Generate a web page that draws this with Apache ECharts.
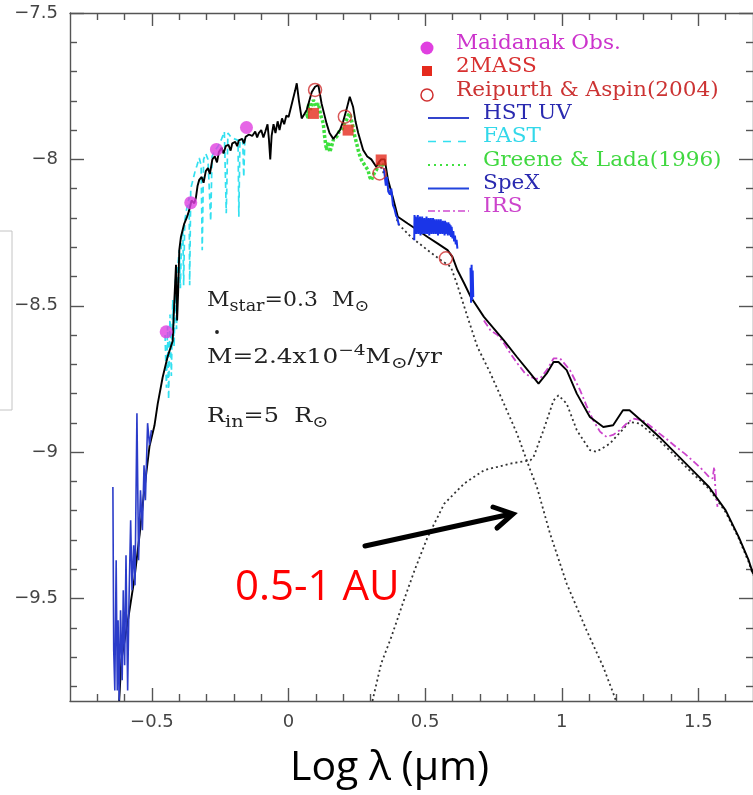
<!DOCTYPE html>
<html><head><meta charset="utf-8">
<script src="https://cdn.jsdelivr.net/npm/echarts@6/dist/echarts.min.js"></script>
<style>html,body{margin:0;padding:0;background:#fff}#c{width:753px;height:795px}</style>
</head><body><div id="c"></div>
<script>
// ---- tick values ----
const xMajorTicks = [-0.5, 0, 0.5, 1, 1.5];
const xMinorTicks = [-0.7,-0.6,-0.4,-0.3,-0.2,-0.1,0.1,0.2,0.3,0.4,0.6,0.7,0.8,0.9,1.1,1.2,1.3,1.4,1.6];
const yMajorTicks = [-9.5, -9, -8.5, -8, -7.5];
const yMinorTicks = [-9.8,-9.7,-9.6,-9.4,-9.3,-9.2,-9.1,-8.9,-8.8,-8.7,-8.6,-8.4,-8.3,-8.2,-8.1,-7.9,-7.8,-7.7,-7.6];

// ---- observed photometry ----
const maidanak = [[-0.448,-8.589],[-0.358,-8.148],[-0.264,-7.966],[-0.154,-7.891]];
const twoMass = [[0.091,-7.843],[0.218,-7.900],[0.339,-8.002]];
const reipurth = [[0.097,-7.763],[0.206,-7.854],[0.333,-8.048],[0.576,-8.338]];

// ---- spectra ----
const hstUV = [[-0.643,-9.119],[-0.640,-9.677],[-0.636,-9.814],[-0.631,-9.369],[-0.627,-9.814],[-0.624,-9.574],[-0.620,-9.848],[-0.615,-9.540],[-0.609,-9.779],[-0.605,-9.472],[-0.600,-9.728],[-0.595,-9.352],[-0.589,-9.814],[-0.584,-9.506],[-0.578,-9.233],[-0.573,-9.472],[-0.567,-9.318],[-0.562,-9.455],[-0.555,-8.867],[-0.549,-9.369],[-0.542,-9.130],[-0.535,-9.267],[-0.529,-9.045],[-0.524,-9.164],[-0.516,-8.901],[-0.509,-8.976],[-0.502,-8.925]];

const fast = [[-0.452,-8.60],[-0.447,-8.78],[-0.443,-8.57],[-0.439,-8.82],[-0.434,-8.53],[-0.429,-8.74],[-0.424,-8.48],[-0.419,-8.64],[-0.414,-8.41],[-0.410,-8.58],[-0.405,-8.36],[-0.400,-8.31],[-0.396,-8.44],[-0.392,-8.27],[-0.387,-8.24],[-0.384,-8.43],[-0.380,-8.21],[-0.373,-8.17],[-0.364,-8.13],[-0.362,-8.43],[-0.358,-8.10],[-0.350,-8.07],[-0.342,-8.04],[-0.335,-8.02],[-0.327,-7.995],[-0.320,-8.02],[-0.316,-8.31],[-0.311,-8.00],[-0.303,-7.98],[-0.295,-8.00],[-0.285,-8.21],[-0.280,-7.99],[-0.270,-7.97],[-0.258,-7.955],[-0.245,-7.93],[-0.235,-7.905],[-0.230,-7.90],[-0.228,-8.184],[-0.222,-7.91],[-0.210,-7.925],[-0.198,-7.93],[-0.185,-7.935],[-0.182,-8.196],[-0.178,-7.935],[-0.168,-7.93],[-0.164,-8.06],[-0.160,-7.93],[-0.150,-7.92]];

const greeneLada = [[0.067,-7.843],[0.070,-7.86],[0.073,-7.809],[0.080,-7.83],[0.091,-7.797],[0.100,-7.82],[0.109,-7.809],[0.118,-7.85],[0.127,-7.877],[0.133,-7.93],[0.139,-7.968],[0.145,-7.94],[0.151,-7.975],[0.157,-7.957],[0.165,-7.93],[0.176,-7.923],[0.185,-7.905],[0.194,-7.90],[0.203,-7.88],[0.212,-7.866],[0.218,-7.85],[0.224,-7.843],[0.236,-7.889],[0.242,-7.92],[0.249,-7.945],[0.258,-7.98],[0.267,-8.002],[0.279,-8.02],[0.291,-8.037],[0.297,-8.06],[0.303,-8.071],[0.312,-8.05],[0.321,-8.037],[0.330,-8.02],[0.339,-8.014],[0.352,-8.025]];

const spex = [[0.349,-8.03],[0.356,-8.09],[0.360,-8.06],[0.365,-8.11],[0.371,-8.12],[0.376,-8.10],[0.382,-8.156],[0.388,-8.17],[0.393,-8.19],[0.398,-8.20],[0.404,-8.225],[0.43,'-'],
  [0.460,-8.276],[0.461,-8.19],[0.463,-8.25],[0.465,-8.195],[0.467,-8.255],[0.469,-8.20],[0.471,-8.25],[0.473,-8.19],[0.475,-8.255],[0.477,-8.205],[0.479,-8.25],[0.481,-8.195],[0.483,-8.26],[0.485,-8.20],[0.487,-8.25],[0.489,-8.195],[0.491,-8.255],[0.493,-8.205],[0.495,-8.25],[0.497,-8.20],[0.499,-8.255],[0.501,-8.21],[0.503,-8.25],[0.505,-8.195],[0.507,-8.255],[0.509,-8.205],[0.511,-8.25],[0.513,-8.20],[0.515,-8.26],[0.517,-8.205],[0.519,-8.25],[0.521,-8.20],[0.523,-8.255],[0.525,-8.21],[0.527,-8.25],[0.529,-8.20],[0.531,-8.255],[0.533,-8.205],[0.535,-8.25],[0.537,-8.21],[0.539,-8.255],[0.541,-8.205],[0.543,-8.25],[0.545,-8.21],[0.547,-8.26],[0.549,-8.205],[0.551,-8.25],[0.553,-8.21],[0.555,-8.255],[0.557,-8.205],[0.559,-8.25],[0.561,-8.215],[0.563,-8.255],[0.565,-8.21],[0.567,-8.25],[0.569,-8.215],[0.571,-8.26],[0.573,-8.21],[0.575,-8.255],[0.577,-8.215],[0.579,-8.25],[0.581,-8.22],[0.583,-8.26],[0.585,-8.215],[0.587,-8.255],[0.589,-8.22],[0.591,-8.26],[0.593,-8.225],[0.595,-8.265],[0.597,-8.23],[0.600,-8.27],[0.603,-8.245],[0.606,-8.28],[0.609,-8.26],[0.612,-8.29],[0.615,-8.275],[0.618,-8.305],[0.64,'-'],
  [0.666,-8.37],[0.668,-8.49],[0.670,-8.36],[0.672,-8.48],[0.674,-8.38],[0.676,-8.47]];

const irs = [[0.715,-8.55],[0.740,-8.585],[0.765,-8.60],[0.790,-8.63],[0.812,-8.663],[0.840,-8.70],[0.865,-8.73],[0.885,-8.743],[0.905,-8.75],[0.921,-8.748],[0.945,-8.72],[0.970,-8.68],[0.994,-8.68],[1.030,-8.72],[1.067,-8.788],[1.090,-8.84],[1.115,-8.891],[1.140,-8.93],[1.164,-8.948],[1.190,-8.94],[1.212,-8.925],[1.240,-8.90],[1.261,-8.885],[1.297,-8.891],[1.330,-8.915],[1.357,-8.936],[1.390,-8.96],[1.418,-8.982],[1.450,-9.005],[1.491,-9.039],[1.515,-9.06],[1.539,-9.085],[1.552,-9.09],[1.558,-9.05],[1.562,-9.12],[1.570,-9.187]];

// ---- models ----
const modelTotal = [[-0.62,-9.85],[-0.612,-9.71],[-0.588,-9.575],[-0.564,-9.43],[-0.545,-9.28],[-0.527,-9.12],[-0.509,-8.98],[-0.491,-8.91],[-0.479,-8.835],[-0.461,-8.745],[-0.443,-8.675],[-0.424,-8.62],[-0.418,-8.48],[-0.412,-8.36],[-0.408,-8.55],[-0.404,-8.45],[-0.400,-8.31],[-0.394,-8.265],[-0.382,-8.22],[-0.373,-8.20],[-0.364,-8.175],[-0.355,-8.14],[-0.345,-8.15],[-0.339,-8.13],[-0.333,-8.09],[-0.327,-8.07],[-0.318,-8.06],[-0.311,-8.08],[-0.303,-8.04],[-0.295,-8.03],[-0.288,-8.05],[-0.279,-8.00],[-0.270,-7.99],[-0.262,-8.01],[-0.255,-7.975],[-0.245,-7.96],[-0.238,-7.98],[-0.230,-7.955],[-0.220,-7.95],[-0.212,-7.97],[-0.206,-7.945],[-0.195,-7.94],[-0.188,-7.955],[-0.182,-7.935],[-0.170,-7.93],[-0.163,-7.945],[-0.157,-7.923],[-0.145,-7.915],[-0.133,-7.92],[-0.122,-7.905],[-0.115,-7.925],[-0.109,-7.91],[-0.100,-7.90],[-0.092,-7.925],[-0.085,-7.905],[-0.077,-7.88],[-0.072,-7.93],[-0.067,-8.00],[-0.062,-7.92],[-0.055,-7.88],[-0.048,-7.91],[-0.040,-7.87],[-0.033,-7.90],[-0.024,-7.86],[-0.016,-7.88],[-0.008,-7.85],[0.000,-7.855],[0.012,-7.81],[0.024,-7.765],[0.030,-7.74],[0.038,-7.80],[0.048,-7.86],[0.058,-7.845],[0.067,-7.83],[0.076,-7.80],[0.085,-7.77],[0.097,-7.752],[0.109,-7.746],[0.121,-7.81],[0.139,-7.877],[0.150,-7.91],[0.164,-7.93],[0.176,-7.915],[0.188,-7.90],[0.200,-7.87],[0.212,-7.83],[0.224,-7.786],[0.236,-7.82],[0.245,-7.87],[0.255,-7.91],[0.273,-7.968],[0.288,-7.99],[0.303,-8.00],[0.321,-8.025],[0.330,-8.01],[0.339,-8.00],[0.352,-8.00],[0.364,-8.07],[0.382,-8.13],[0.400,-8.196],[0.436,-8.219],[0.473,-8.242],[0.509,-8.265],[0.545,-8.287],[0.582,-8.31],[0.600,-8.333],[0.618,-8.378],[0.643,-8.424],[0.667,-8.47],[0.715,-8.538],[0.788,-8.618],[0.836,-8.675],[0.885,-8.731],[0.915,-8.766],[0.945,-8.731],[0.970,-8.692],[0.988,-8.692],[1.018,-8.72],[1.055,-8.80],[1.103,-8.88],[1.152,-8.914],[1.188,-8.908],[1.224,-8.857],[1.248,-8.857],[1.297,-8.897],[1.357,-8.948],[1.418,-9.005],[1.479,-9.062],[1.539,-9.119],[1.600,-9.199],[1.648,-9.29],[1.684,-9.369],[1.700,-9.415]];

const modelStar = [[0.330,-8.01],[0.364,-8.08],[0.382,-8.14],[0.400,-8.219],[0.448,-8.265],[0.509,-8.31],[0.557,-8.344],[0.594,-8.367],[0.618,-8.43],[0.655,-8.538],[0.691,-8.64],[0.739,-8.731],[0.788,-8.834],[0.836,-8.936],[0.885,-9.062],[0.909,-9.119],[0.957,-9.278],[1.018,-9.449],[1.091,-9.609],[1.152,-9.734],[1.194,-9.837],[1.198,-9.85]];

const modelDisk = [[0.307,-9.85],[0.339,-9.722],[0.376,-9.632],[0.418,-9.517],[0.461,-9.404],[0.509,-9.29],[0.570,-9.176],[0.643,-9.107],[0.715,-9.062],[0.812,-9.039],[0.885,-9.028],[0.897,-9.016],[0.933,-8.925],[0.970,-8.823],[0.988,-8.806],[1.018,-8.834],[1.055,-8.925],[1.103,-8.993],[1.127,-8.999],[1.176,-8.971],[1.248,-8.897],[1.285,-8.902],[1.357,-8.959],[1.479,-9.073],[1.539,-9.125],[1.600,-9.205],[1.648,-9.295],[1.684,-9.375],[1.700,-9.42]];

// ---- legend entries ----
const legendMarkers = ['Maidanak Obs.', '2MASS', 'Reipurth & Aspin(2004)'];
const legendLines = ['HST UV', 'FAST', 'Greene & Lada(1996)', 'SpeX', 'IRS'];

const X_MIN = -0.8, X_MAX = 1.7, Y_MIN = -9.85, Y_MAX = -7.5;
const AX = '#555';
const labelFmt = v => String(v).replace('-', '\u2212');
const tickFont = {fontFamily: 'DejaVu Sans', fontSize: 18, color: '#444'};

function xAx(pos, ticks, len, line, labels) {
  return {type: 'value', min: X_MIN, max: X_MAX, position: pos,
    axisLine: {show: line, onZero: false, lineStyle: {color: AX, width: 1.4}},
    axisTick: {show: true, inside: true, length: len, customValues: ticks, lineStyle: {color: AX, width: 1.4}},
    axisLabel: labels ? Object.assign({show: true, customValues: ticks, formatter: labelFmt, margin: 12}, tickFont) : {show: false, customValues: ticks},
    splitLine: {show: false}};
}
function yAx(pos, ticks, len, line, labels) {
  return {type: 'value', min: Y_MIN, max: Y_MAX, position: pos,
    axisLine: {show: line, onZero: false, lineStyle: {color: AX, width: 1.4}},
    axisTick: {show: true, inside: true, length: len, customValues: ticks, lineStyle: {color: AX, width: 1.4}},
    axisLabel: labels ? Object.assign({show: true, customValues: ticks, formatter: labelFmt, margin: 12}, tickFont) : {show: false, customValues: ticks},
    splitLine: {show: false}};
}

const SERIF = 'DejaVu Serif';
const legendColorsM = ['#cc33cc', '#d83030', '#cc3333'];
const legendColorsL = ['#2a2ab0', '#33d8ea', '#40d840', '#2a2ab0', '#cc44cc'];
const graphics = [];
// legend markers
graphics.push({type: 'circle', shape: {cx: 427, cy: 48, r: 6.5}, style: {fill: '#e040e0'}, z: 100});
graphics.push({type: 'rect', shape: {x: 422, y: 66, width: 10, height: 10}, style: {fill: '#e52a1d'}, z: 100});
graphics.push({type: 'circle', shape: {cx: 427, cy: 95, r: 6}, style: {fill: 'none', stroke: '#d03030', lineWidth: 1.5}, z: 100});
const markerTextY = [43.5, 66.5, 90.5];
legendMarkers.forEach((t, i) => graphics.push({type: 'text', x: 456, y: markerTextY[i], scaleX: 1.08, z: 100,
  style: {text: t, fill: legendColorsM[i], font: '20px "DejaVu Serif"', textAlign: 'left', align: 'left', textVerticalAlign: 'middle', verticalAlign: 'middle'}}));
const lineY = [118, 141.5, 165, 188.5, 211];
const lineDash = [null, [8, 7], [2, 4], null, [7, 3, 2, 3]];
const lineW = [2, 1.6, 1.8, 2, 1.6];
const lineCol = ['#3344cc', '#33e0f0', '#40e040', '#2244dd', '#d04ad0'];
legendLines.forEach((t, i) => {
  graphics.push({type: 'line', shape: {x1: 428, y1: lineY[i], x2: 469, y2: lineY[i]}, z: 100,
    style: {stroke: lineCol[i], lineWidth: lineW[i], lineDash: lineDash[i] || null}});
  graphics.push({type: 'text', x: 483, y: lineY[i] - 4.5, scaleX: 1.08, z: 100,
    style: {text: t, fill: legendColorsL[i], font: '20px "DejaVu Serif"', textAlign: 'left', align: 'left', textVerticalAlign: 'middle', verticalAlign: 'middle'}});
});
// model parameters
const rich = {
  m: {fontSize: 20, fontFamily: SERIF, fill: '#222', lineHeight: 28, verticalAlign: 'middle'},
  s: {fontSize: 16, fontFamily: SERIF, fill: '#222', lineHeight: 16, verticalAlign: 'bottom'},
  o: {fontSize: 16, fontFamily: SERIF, fill: '#222', lineHeight: 15, verticalAlign: 'bottom'},
  p: {fontSize: 15, fontFamily: SERIF, fill: '#222', lineHeight: 20, verticalAlign: 'top'}
};
[['{m|M}{s|star}{m|=0.3  M}{o|\u2299}', 301, 1.1], ['{m|M=2.4x10}{p|\u22124}{m|M}{o|\u2299}{m|/yr}', 358, 1.24], ['{m|R}{s|in}{m|=5  R}{o|\u2299}', 417, 1.2]].forEach(a => {
  graphics.push({type: 'text', x: 207, y: a[1], scaleX: a[2], z: 100,
    style: {text: a[0], rich: rich, textAlign: 'left', align: 'left', textVerticalAlign: 'middle', verticalAlign: 'middle'}});
});
graphics.push({type: 'circle', shape: {cx: 217, cy: 332, r: 1.9}, style: {fill: '#222'}, z: 100});
// annotation
graphics.push({type: 'text', x: 235, y: 588, z: 100,
  style: {text: '0.5-1 AU', fill: '#ff0000', font: '42px "Open Sans"', textAlign: 'left', align: 'left', textVerticalAlign: 'middle', verticalAlign: 'middle'}});
graphics.push({type: 'polyline', shape: {points: [[365, 546], [511, 514]]}, style: {stroke: '#000', lineWidth: 5, lineCap: 'round'}, z: 100});
graphics.push({type: 'polyline', shape: {points: [[493, 507], [513, 514], [497, 528]]}, style: {stroke: '#000', lineWidth: 5, lineCap: 'round', lineJoin: 'miter', fill: 'none'}, z: 100});
// axis title
graphics.push({type: 'text', x: 290, y: 768, z: 100,
  style: {text: 'Log \u03bb (\u03bcm)', fill: '#000', font: '41px "Open Sans"', textAlign: 'left', align: 'left', textVerticalAlign: 'middle', verticalAlign: 'middle'}});
// side box
graphics.push({type: 'rect', shape: {x: -2, y: 231, width: 14, height: 179}, style: {fill: 'none', stroke: '#c4c4c4', lineWidth: 1}, z: 100});

const lineS = (name, data, color, width, type, z) => ({type: 'line', name, data, xAxisIndex: 0, yAxisIndex: 0,
  symbol: 'none', connectNulls: false, animation: false, z: z,
  lineStyle: {color, width, type: type || 'solid'}});

const option = {
  backgroundColor: '#fff',
  animation: false,
  grid: {left: 70, top: 13, width: 687, height: 688, containLabel: false},
  xAxis: [xAx('bottom', xMajorTicks, 13, true, true), xAx('bottom', xMinorTicks, 7, false, false),
          xAx('top', xMajorTicks, 13, true, false), xAx('top', xMinorTicks, 7, false, false)],
  yAxis: [yAx('left', yMajorTicks, 14, true, true), yAx('left', yMinorTicks, 7, false, false),
          yAx('right', yMajorTicks, 14, true, false), yAx('right', yMinorTicks, 7, false, false)],
  series: [
    lineS('FAST', fast, '#33e0f0', 1.7, [6, 4], 2),
    lineS('Greene & Lada(1996)', greeneLada, '#3ee03e', 3.5, [3, 2], 2),
    lineS('Model star', modelStar, '#333', 1.8, [2, 3], 3),
    lineS('Model disk', modelDisk, '#333', 1.8, [2, 3], 3),
    lineS('IRS', irs, '#cc44cc', 1.8, [7, 3, 2, 3], 3),
    lineS('Model total', modelTotal, '#000', 1.9, 'solid', 4),
    lineS('HST UV', hstUV, '#2b3cc9', 1.6, 'solid', 5),
    lineS('SpeX', spex, '#1a35e8', 2, 'solid', 5),
    {type: 'scatter', name: 'Maidanak Obs.', data: maidanak, symbol: 'circle', symbolSize: 13, itemStyle: {color: '#e040e0'}, z: 6},
    {type: 'scatter', name: '2MASS', data: twoMass, symbol: 'rect', symbolSize: 11, itemStyle: {color: '#e52a1d'}, z: 6},
    {type: 'scatter', name: 'Reipurth & Aspin(2004)', data: reipurth, symbol: 'circle', symbolSize: 13,
      itemStyle: {color: 'rgba(0,0,0,0)', borderColor: '#d03030', borderWidth: 1.5}, z: 7}
  ],
  graphic: graphics
};
const chart = echarts.init(document.getElementById('c'), null, {renderer: 'canvas'});
chart.setOption(option);
</script></body></html>
